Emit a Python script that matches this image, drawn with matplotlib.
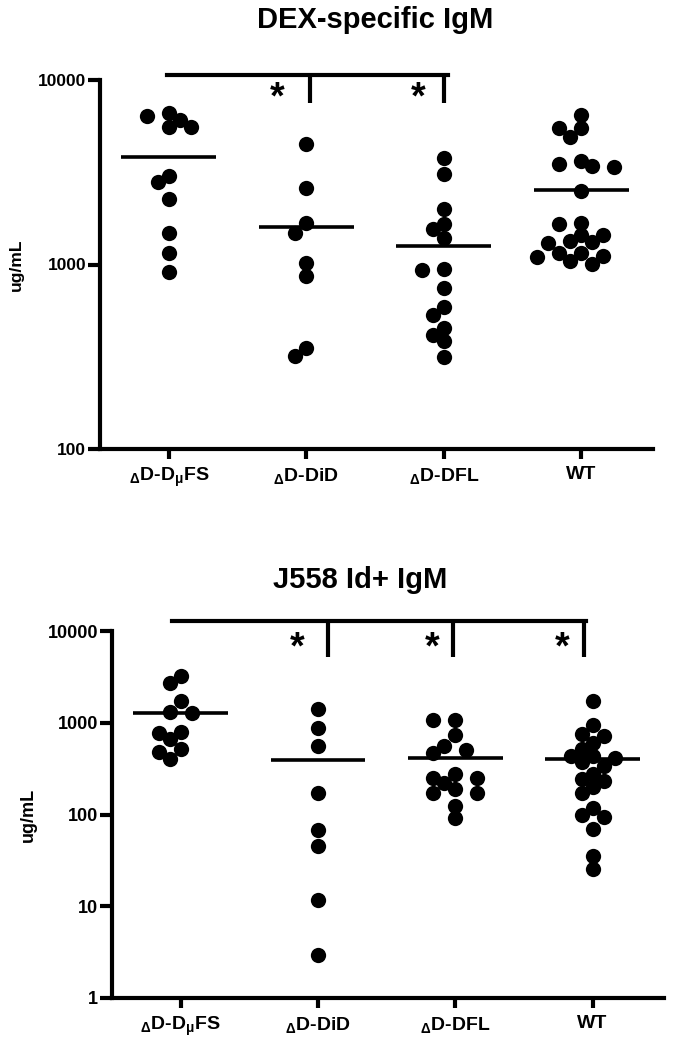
import numpy as np
import matplotlib
matplotlib.use('Agg')
import matplotlib.pyplot as plt
import matplotlib.transforms as mtransforms

plt.rcParams['font.family'] = ['Liberation Sans', 'DejaVu Sans']
plt.rcParams['font.weight'] = 'bold'
plt.rcParams['mathtext.fontset'] = 'custom'
plt.rcParams['mathtext.rm'] = 'Liberation Sans'
plt.rcParams['mathtext.it'] = 'Liberation Sans'
plt.rcParams['mathtext.default'] = 'rm'

groups = [r'$_{\Delta}$D-D$_{\mu}$FS', r'$_{\Delta}$D-DiD', r'$_{\Delta}$D-DFL', 'WT']

# DEX-specific IgM, ug/mL
dex_dmufs = [6630, 6380, 6070, 5560, 5560, 3020, 2800, 2260, 1480, 1150, 910]
dex_did = [4500, 2600, 1680, 1480, 1020, 867, 352, 319]
dex_dfl = [3780, 3100, 2000, 1660, 1560, 1390, 946, 934, 746, 589, 533, 453, 415, 385, 315]
dex_wt = [6460, 5500, 5500, 4910, 3640, 3510, 3420, 3380, 2500, 1680, 1660, 1446, 1446,
          1341, 1325, 1309, 1154, 1154, 1111, 1099, 1045, 1007]

# J558 Id+ IgM, ug/mL
j558_dmufs = [3230, 2710, 1727, 1310, 1277, 792, 773, 665, 517, 480, 403]
j558_did = [1413, 877, 558, 171, 67.7, 45.4, 11.7, 2.94]
j558_dfl = [1072, 1072, 735, 558, 505, 468, 276, 250, 250, 220, 190, 171, 171, 124, 91.6]
j558_wt = [1727, 944, 753, 717, 602, 517, 434, 434, 413, 374, 338, 276, 244, 232, 200,
           171, 118, 98.9, 94, 69.5, 35.3, 25.5]

dex_sets = [dex_dmufs, dex_did, dex_dfl, dex_wt]
j558_sets = [j558_dmufs, j558_did, j558_dfl, j558_wt]


def swarm(ax, values, center, step_px=11, min_dist=12.0):
    """simple beeswarm: columns of step_px, points pushed out until they don't collide"""
    vals = np.asarray(values, dtype=float)
    pts = ax.transData.transform(np.column_stack([np.full(len(vals), center), vals]))
    ys = pts[:, 1]
    placed = []
    ks = []
    for y in ys:
        for k in [0, -1, 1, -2, 2, -3, 3, -4, 4]:
            x = k * step_px
            if all((x - px) ** 2 + (y - py) ** 2 >= min_dist ** 2 for px, py in placed):
                break
        placed.append((x, y))
        ks.append(k)
    x0 = ax.transData.transform((center, 1))[0]
    x1 = ax.transData.transform((center + 1, 1))[0]
    return center + np.array(ks) * step_px / (x1 - x0)


def draw_panel(ax, sets, title, ylim, yticks, fs, bracket_x, ticks_x, stars_x, br_y, title_xy):
    ax.set_yscale('log')
    ax.set_xlim(-0.5, 3.52)
    ax.set_ylim(*ylim)
    for i, vals in enumerate(sets):
        xs = swarm(ax, vals, i)
        ax.plot(xs, vals, 'o', color='black', markersize=11, markeredgewidth=0, clip_on=False)
        m = np.mean(vals)
        ax.plot([i - 0.345, i + 0.345], [m, m], color='black', lw=2.6, solid_capstyle='butt')

    ax.set_xticks(range(len(groups)))
    ax.set_xticklabels(groups, fontsize=14, fontweight='bold')
    ax.set_yticks(yticks)
    ax.set_yticklabels([str(t) for t in yticks], fontsize=fs, fontweight='bold')
    ax.yaxis.set_minor_locator(matplotlib.ticker.NullLocator())
    for s in ['top', 'right']:
        ax.spines[s].set_visible(False)
    for s in ['left', 'bottom']:
        ax.spines[s].set_linewidth(3)
    ax.tick_params(axis='y', length=9, width=3, pad=1)
    ax.tick_params(axis='x', length=7, width=3, pad=5)
    ax.set_ylabel('ug/mL', fontsize=fs, fontweight='bold')
    ax.yaxis.set_label_coords(-0.137, 0.5)

    # significance bracket
    tr = mtransforms.blended_transform_factory(ax.transData, ax.transAxes)
    top, low = br_y
    ax.plot(bracket_x, [top, top], color='black', lw=3, transform=tr, clip_on=False,
            solid_capstyle='projecting')
    for tx in ticks_x:
        ax.plot([tx, tx], [top, low], color='black', lw=3, transform=tr, clip_on=False,
                solid_capstyle='butt')
    for sx in stars_x:
        ax.text(sx, (top + low) / 2 - 0.025, '*', fontsize=27, fontweight='bold',
                ha='center', va='center', transform=tr)

    fig.text(title_xy[0], title_xy[1], title, fontsize=21, fontweight='bold',
             ha='center', va='center')


fig = plt.figure(figsize=(6.76, 10.5), dpi=100)
ax1 = fig.add_axes([100 / 676, 1 - 449 / 1050, 553 / 676, 369 / 1050])
ax2 = fig.add_axes([112 / 676, 1 - 998 / 1050, 552 / 676, 367 / 1050])

draw_panel(ax1, dex_sets, 'DEX-specific IgM', (100, 10000), [100, 1000, 10000], 12.5,
           [-0.01, 2.03], [1.03, 2.0], [0.79, 1.81], (1.014, 0.938), (375 / 676, 1 - 20 / 1050))
draw_panel(ax2, j558_sets, 'J558 Id+ IgM', (1, 10000), [1, 10, 100, 1000, 10000], 13,
           [-0.065, 2.95], [1.07, 1.985, 2.94], [0.85, 1.83, 2.78], (1.027, 0.93),
           (360 / 676, 1 - 580 / 1050))

fig.savefig('out.png', dpi=100)
